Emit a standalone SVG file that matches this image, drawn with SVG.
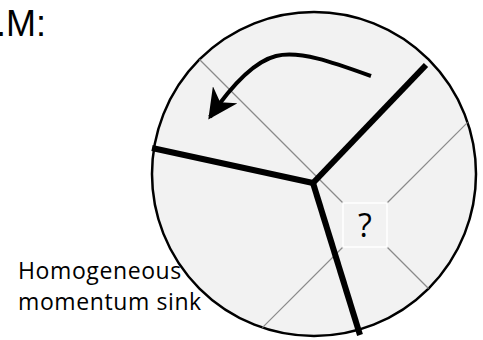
<svg xmlns="http://www.w3.org/2000/svg" width="483" height="340" viewBox="0 0 483 340">
  <style>
    .lbl { font-family: "Open Sans", "Noto Sans", sans-serif; fill: #000; }
    .thin { stroke: #8a8a8a; stroke-width: 1.2; fill: none; }
    .thick { stroke: #000; stroke-width: 6; fill: none; stroke-linecap: butt; }
  </style>
  <defs>
    <marker id="ah" viewBox="0 0 10 10" refX="9" refY="5" markerWidth="7.5" markerHeight="7.5" orient="auto" markerUnits="strokeWidth">
      <path d="M0,0 L10,5 L0,10 L3,5 Z" fill="#000"/>
    </marker>
  </defs>
  <rect width="483" height="340" fill="#fff"/>
  <text x="46" y="36" font-size="36" font-family="Liberation Sans, Arial, sans-serif" text-anchor="end" fill="#000">.M:</text>
  <g id="disk">
    <circle cx="314" cy="174" r="162" fill="#f2f2f2" stroke="#000" stroke-width="2.5"/>
  </g>
  <g id="connectors">
    <line class="thin" x1="199.5" y1="59.5" x2="343" y2="203"/>
    <line class="thin" x1="387" y1="247" x2="428.5" y2="288.5"/>
    <line class="thin" x1="467.6" y1="122.4" x2="387" y2="203"/>
    <line class="thin" x1="343" y1="247" x2="262.4" y2="327.6"/>
    <line class="thick" x1="313" y1="183" x2="426" y2="65"/>
    <line class="thick" x1="313" y1="183" x2="152" y2="148"/>
    <line class="thick" x1="313" y1="183" x2="360" y2="335"/>
    <path d="M371,76 C335,63 300,50 276,56 C256,61 234,82 210,117" stroke="#000" stroke-width="4" fill="none" marker-end="url(#ah)"/>
  </g>
  <g id="unknown">
    <rect x="343" y="203" width="44" height="44" fill="#f2f2f2" stroke="#fff" stroke-width="1.5"/>
    <text class="lbl" x="365" y="237" font-size="32" text-anchor="middle">?</text>
  </g>
  <g id="label">
    <text class="lbl" x="18" y="279" font-size="23" letter-spacing="0.6">Homogeneous</text>
    <text class="lbl" x="18" y="310" font-size="23" letter-spacing="0.6">momentum sink</text>
  </g>
</svg>
